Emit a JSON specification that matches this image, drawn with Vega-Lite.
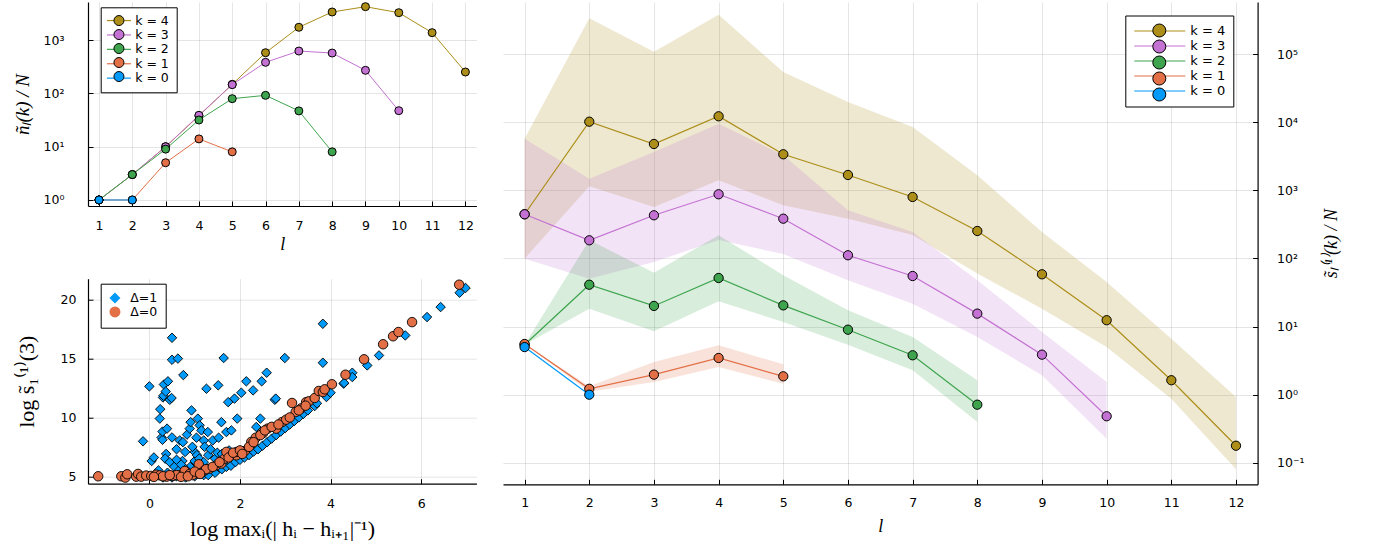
{
  "$schema": "https://vega.github.io/schema/vega-lite/v6.json",
  "padding": {"left": 13, "top": 0, "right": 5, "bottom": 5},
  "background": "white",
  "config": {
    "view": {"stroke": null},
    "axis": {
      "labelFont": "DejaVu Sans", "labelFontSize": 12.5, "labelColor": "#000",
      "titleFont": "Liberation Serif", "titleFontStyle": "italic", "titleFontWeight": "normal",
      "titleFontSize": 18, "titleColor": "#000",
      "gridColor": "#000", "gridOpacity": 0.1, "gridWidth": 1,
      "domainColor": "#000", "domainWidth": 1.2,
      "tickColor": "#000", "tickSize": -5, "tickWidth": 1
    },
    "legend": {"labelFont": "DejaVu Sans", "labelColor": "#000"}
  },
  "datasets": {
    "nl": [
      {"k":"4","s":"4","l":1,"n":1},{"k":"4","s":"4","l":2,"n":3},{"k":"4","s":"4","l":3,"n":10},{"k":"4","s":"4","l":4,"n":38},{"k":"4","s":"4","l":5,"n":148},{"k":"4","s":"4","l":6,"n":580},{"k":"4","s":"4","l":7,"n":1740},{"k":"4","s":"4","l":8,"n":3370},{"k":"4","s":"4","l":9,"n":4240},{"k":"4","s":"4","l":10,"n":3270},{"k":"4","s":"4","l":11,"n":1380},{"k":"4","s":"4","l":12,"n":252},
      {"k":"3","s":"3","l":1,"n":1},{"k":"3","s":"3","l":2,"n":3},{"k":"3","s":"3","l":3,"n":10},{"k":"3","s":"3","l":4,"n":38.8},{"k":"3","s":"3","l":5,"n":146},{"k":"3","s":"3","l":6,"n":383},{"k":"3","s":"3","l":7,"n":624},{"k":"3","s":"3","l":8,"n":572},{"k":"3","s":"3","l":9,"n":271},{"k":"3","s":"3","l":10,"n":47.4},
      {"k":"2","s":"2","l":1,"n":1},{"k":"2","s":"2","l":2,"n":3},{"k":"2","s":"2","l":3,"n":9},{"k":"2","s":"2","l":4,"n":31.7},{"k":"2","s":"2","l":5,"n":79.6},{"k":"2","s":"2","l":6,"n":92},{"k":"2","s":"2","l":7,"n":47},{"k":"2","s":"2","l":8,"n":8},
      {"k":"1","s":"1","l":1,"n":1},{"k":"1","s":"1","l":2,"n":1},{"k":"1","s":"1","l":3,"n":5},{"k":"1","s":"1","l":4,"n":14},{"k":"1","s":"1","l":5,"n":8},
      {"k":"0","s":"0","l":1,"n":1},{"k":"0","s":"0","l":2,"n":1}
    ],
    "sl": [
      {"k":"4","s":"4","l":1,"v":446},{"k":"4","s":"4","l":2,"v":10200},{"k":"4","s":"4","l":3,"v":4800},{"k":"4","s":"4","l":4,"v":12250},{"k":"4","s":"4","l":5,"v":3390},{"k":"4","s":"4","l":6,"v":1683},{"k":"4","s":"4","l":7,"v":800},{"k":"4","s":"4","l":8,"v":253.5},{"k":"4","s":"4","l":9,"v":58.6},{"k":"4","s":"4","l":10,"v":12.4},{"k":"4","s":"4","l":11,"v":1.63},{"k":"4","s":"4","l":12,"v":0.178},
      {"k":"3","s":"3","l":1,"v":446},{"k":"3","s":"3","l":2,"v":185},{"k":"3","s":"3","l":3,"v":431},{"k":"3","s":"3","l":4,"v":877},{"k":"3","s":"3","l":5,"v":384},{"k":"3","s":"3","l":6,"v":111.5},{"k":"3","s":"3","l":7,"v":55.3},{"k":"3","s":"3","l":8,"v":15.5},{"k":"3","s":"3","l":9,"v":3.87},{"k":"3","s":"3","l":10,"v":0.482},
      {"k":"2","s":"2","l":1,"v":5.42},{"k":"2","s":"2","l":2,"v":41.2},{"k":"2","s":"2","l":3,"v":20.1},{"k":"2","s":"2","l":4,"v":51.7},{"k":"2","s":"2","l":5,"v":20.5},{"k":"2","s":"2","l":6,"v":9.0},{"k":"2","s":"2","l":7,"v":3.79},{"k":"2","s":"2","l":8,"v":0.713},
      {"k":"1","s":"1","l":1,"v":5.55},{"k":"1","s":"1","l":2,"v":1.22},{"k":"1","s":"1","l":3,"v":1.97},{"k":"1","s":"1","l":4,"v":3.46},{"k":"1","s":"1","l":5,"v":1.86},
      {"k":"0","s":"0","l":1,"v":5.0},{"k":"0","s":"0","l":2,"v":1.0}
    ],
    "band": [
      {"k":"4","l":1,"lo":99.3,"hi":5740},{"k":"4","l":2,"lo":1148,"hi":336500},{"k":"4","l":3,"lo":570,"hi":108900},{"k":"4","l":4,"lo":1407,"hi":380000},{"k":"4","l":5,"lo":604,"hi":54800},{"k":"4","l":6,"lo":384,"hi":19860},{"k":"4","l":7,"lo":221,"hi":8530},{"k":"4","l":8,"lo":60,"hi":1667},{"k":"4","l":9,"lo":18.3,"hi":245},{"k":"4","l":10,"lo":5.02,"hi":45.2},{"k":"4","l":11,"lo":0.874,"hi":6.64},{"k":"4","l":12,"lo":0.0803,"hi":0.925},
      {"k":"3","l":1,"lo":99.3,"hi":5740},{"k":"3","l":2,"lo":50.5,"hi":1486},{"k":"3","l":3,"lo":88.9,"hi":3664},{"k":"3","l":4,"lo":187,"hi":9540},{"k":"3","l":5,"lo":116.4,"hi":3275},{"k":"3","l":6,"lo":47.9,"hi":510},{"k":"3","l":7,"lo":21.7,"hi":245},{"k":"3","l":8,"lo":7.03,"hi":47.9},{"k":"3","l":9,"lo":1.93,"hi":8.33},{"k":"3","l":10,"lo":0.226,"hi":1.54},
      {"k":"2","l":1,"lo":5.42,"hi":5.42},{"k":"2","l":2,"lo":18.3,"hi":187},{"k":"2","l":3,"lo":8.53,"hi":61.9},{"k":"2","l":4,"lo":23.5,"hi":219},{"k":"2","l":5,"lo":11.7,"hi":56.7},{"k":"2","l":6,"lo":5.42,"hi":17.4},{"k":"2","l":7,"lo":2.28,"hi":7.03},{"k":"2","l":8,"lo":0.397,"hi":1.63},
      {"k":"1","l":1,"lo":5.55,"hi":5.55},{"k":"1","l":2,"lo":1.10,"hi":1.33},{"k":"1","l":3,"lo":1.54,"hi":3.02},{"k":"1","l":4,"lo":2.55,"hi":5.31},{"k":"1","l":5,"lo":1.45,"hi":2.79}
    ],
    "sc": [
      {"d":"Δ=1","x":-0.14,"y":7.97},{"d":"Δ=1","x":0.0,"y":12.64},{"d":"Δ=1","x":0.05,"y":6.3},{"d":"Δ=1","x":0.1,"y":6.6},{"d":"Δ=1","x":0.23,"y":9.9},{"d":"Δ=1","x":0.24,"y":10.7},{"d":"Δ=1","x":0.27,"y":8.3},{"d":"Δ=1","x":0.29,"y":8.1},{"d":"Δ=1","x":0.29,"y":8.8},{"d":"Δ=1","x":0.3,"y":11.7},{"d":"Δ=1","x":0.31,"y":11.85},{"d":"Δ=1","x":0.32,"y":12.8},{"d":"Δ=1","x":0.36,"y":12.2},{"d":"Δ=1","x":0.37,"y":6.9},{"d":"Δ=1","x":0.39,"y":9.05},{"d":"Δ=1","x":0.41,"y":13.07},{"d":"Δ=1","x":0.45,"y":11.5},{"d":"Δ=1","x":0.49,"y":11.65},{"d":"Δ=1","x":0.5,"y":16.77},{"d":"Δ=1","x":0.5,"y":14.9},{"d":"Δ=1","x":0.5,"y":8.3},{"d":"Δ=1","x":0.63,"y":15.0},{"d":"Δ=1","x":0.67,"y":8.05},{"d":"Δ=1","x":0.73,"y":6.3},{"d":"Δ=1","x":0.74,"y":7.9},{"d":"Δ=1","x":0.75,"y":13.6},{"d":"Δ=1","x":0.79,"y":7.07},{"d":"Δ=1","x":0.83,"y":8.54},{"d":"Δ=1","x":0.89,"y":9.05},{"d":"Δ=1","x":0.91,"y":9.6},{"d":"Δ=1","x":0.93,"y":10.6},{"d":"Δ=1","x":1.0,"y":7.07},{"d":"Δ=1","x":1.04,"y":8.28},{"d":"Δ=1","x":1.07,"y":9.9},{"d":"Δ=1","x":1.11,"y":9.33},{"d":"Δ=1","x":1.15,"y":8.9},{"d":"Δ=1","x":1.2,"y":8.05},{"d":"Δ=1","x":1.22,"y":7.5},{"d":"Δ=1","x":1.26,"y":12.44},{"d":"Δ=1","x":1.29,"y":8.76},{"d":"Δ=1","x":1.4,"y":8.05},{"d":"Δ=1","x":1.52,"y":12.73},{"d":"Δ=1","x":1.53,"y":8.28},{"d":"Δ=1","x":1.59,"y":9.6},{"d":"Δ=1","x":1.64,"y":15.05},{"d":"Δ=1","x":1.7,"y":8.76},{"d":"Δ=1","x":1.74,"y":11.3},{"d":"Δ=1","x":1.76,"y":7.2},{"d":"Δ=1","x":1.81,"y":8.9},{"d":"Δ=1","x":1.88,"y":11.6},{"d":"Δ=1","x":1.94,"y":9.9},{"d":"Δ=1","x":2.03,"y":12.1},{"d":"Δ=1","x":2.14,"y":13.07},{"d":"Δ=1","x":2.29,"y":12.3},{"d":"Δ=1","x":2.36,"y":9.19},{"d":"Δ=1","x":2.45,"y":9.9},{"d":"Δ=1","x":2.48,"y":13.07},{"d":"Δ=1","x":2.59,"y":13.8},{"d":"Δ=1","x":2.77,"y":11.5},{"d":"Δ=1","x":2.79,"y":11.6},{"d":"Δ=1","x":2.99,"y":15.05},{"d":"Δ=1","x":3.83,"y":17.96},{"d":"Δ=1","x":3.83,"y":14.65},{"d":"Δ=1","x":4.29,"y":12.87},{"d":"Δ=1","x":4.48,"y":13.8},{"d":"Δ=1","x":4.48,"y":13.43},{"d":"Δ=1","x":4.81,"y":14.42},{"d":"Δ=1","x":5.07,"y":15.27},{"d":"Δ=1","x":5.65,"y":16.97},{"d":"Δ=1","x":6.13,"y":18.53},{"d":"Δ=1","x":6.43,"y":19.38},{"d":"Δ=1","x":6.85,"y":20.6},{"d":"Δ=1","x":6.98,"y":21.0},
      {"d":"Δ=1","x":0.35,"y":6.5},{"d":"Δ=1","x":0.45,"y":6.2},{"d":"Δ=1","x":0.55,"y":5.8},{"d":"Δ=1","x":0.6,"y":6.4},{"d":"Δ=1","x":0.65,"y":5.5},{"d":"Δ=1","x":0.7,"y":6.0},{"d":"Δ=1","x":0.9,"y":5.8},{"d":"Δ=1","x":1.0,"y":6.3},{"d":"Δ=1","x":1.05,"y":6.8},{"d":"Δ=1","x":1.1,"y":6.5},{"d":"Δ=1","x":1.2,"y":6.2},{"d":"Δ=1","x":1.3,"y":6.8},{"d":"Δ=1","x":1.45,"y":6.5},{"d":"Δ=1","x":1.5,"y":7.0},{"d":"Δ=1","x":1.6,"y":6.9},{"d":"Δ=1","x":0.2,"y":5.5},{"d":"Δ=1","x":0.4,"y":5.3},{"d":"Δ=1","x":0.8,"y":5.6},{"d":"Δ=1","x":1.1,"y":5.6},{"d":"Δ=1","x":0.95,"y":7.5},{"d":"Δ=1","x":0.6,"y":7.3},{"d":"Δ=1","x":1.35,"y":7.3},
      {"d":"Δ=1","x":0.3,"y":4.9},{"d":"Δ=1","x":0.5,"y":4.9},{"d":"Δ=1","x":0.6,"y":5.0},{"d":"Δ=1","x":0.8,"y":4.9},{"d":"Δ=1","x":1.0,"y":5.0},{"d":"Δ=1","x":1.2,"y":5.1},{"d":"Δ=1","x":1.3,"y":5.1},{"d":"Δ=1","x":1.45,"y":5.3},{"d":"Δ=1","x":1.6,"y":5.6},{"d":"Δ=1","x":1.7,"y":5.8},{"d":"Δ=1","x":1.8,"y":5.9},{"d":"Δ=1","x":1.9,"y":6.2},{"d":"Δ=1","x":2.0,"y":6.4},{"d":"Δ=1","x":2.1,"y":6.6},{"d":"Δ=1","x":2.2,"y":6.8},{"d":"Δ=1","x":2.3,"y":7.1},{"d":"Δ=1","x":2.4,"y":7.3},{"d":"Δ=1","x":2.5,"y":7.6},{"d":"Δ=1","x":2.6,"y":7.9},{"d":"Δ=1","x":2.7,"y":8.2},{"d":"Δ=1","x":2.8,"y":8.5},{"d":"Δ=1","x":2.9,"y":8.8},{"d":"Δ=1","x":3.0,"y":9.1},{"d":"Δ=1","x":3.1,"y":9.4},{"d":"Δ=1","x":3.2,"y":9.7},{"d":"Δ=1","x":3.3,"y":10.0},{"d":"Δ=1","x":3.4,"y":10.3},{"d":"Δ=1","x":3.5,"y":10.6},{"d":"Δ=1","x":3.65,"y":10.97},{"d":"Δ=1","x":3.7,"y":11.2},{"d":"Δ=1","x":3.91,"y":11.74},{"d":"Δ=1","x":4.0,"y":12.1},{"d":"Δ=1","x":4.3,"y":12.93},
      {"d":"Δ=0","x":-1.13,"y":5.0},{"d":"Δ=0","x":-0.62,"y":5.0},{"d":"Δ=0","x":-0.53,"y":4.89},{"d":"Δ=0","x":-0.49,"y":5.17},{"d":"Δ=0","x":-0.29,"y":4.97},{"d":"Δ=0","x":-0.25,"y":5.2},{"d":"Δ=0","x":-0.18,"y":4.97},{"d":"Δ=0","x":-0.07,"y":5.06},{"d":"Δ=0","x":0.04,"y":5.03},{"d":"Δ=0","x":0.15,"y":5.14},{"d":"Δ=0","x":0.23,"y":5.08},{"d":"Δ=0","x":0.38,"y":4.97},{"d":"Δ=0","x":0.52,"y":5.03},{"d":"Δ=0","x":0.67,"y":5.08},{"d":"Δ=0","x":0.78,"y":5.45},{"d":"Δ=0","x":0.89,"y":5.2},{"d":"Δ=0","x":1.04,"y":5.23},{"d":"Δ=0","x":1.09,"y":6.02},{"d":"Δ=0","x":1.22,"y":5.5},{"d":"Δ=0","x":1.33,"y":5.65},{"d":"Δ=0","x":1.48,"y":5.93},{"d":"Δ=0","x":1.59,"y":6.08},{"d":"Δ=0","x":1.66,"y":6.5},{"d":"Δ=0","x":1.7,"y":7.07},{"d":"Δ=0","x":1.92,"y":6.78},{"d":"Δ=0","x":1.93,"y":7.07},{"d":"Δ=0","x":2.11,"y":7.15},{"d":"Δ=0","x":2.25,"y":7.92},{"d":"Δ=0","x":2.35,"y":8.28},{"d":"Δ=0","x":2.51,"y":8.68},{"d":"Δ=0","x":2.61,"y":9.05},{"d":"Δ=0","x":2.8,"y":9.05},{"d":"Δ=0","x":2.93,"y":9.61},{"d":"Δ=0","x":3.02,"y":9.81},{"d":"Δ=0","x":3.15,"y":11.23},{"d":"Δ=0","x":3.23,"y":10.46},{"d":"Δ=0","x":3.35,"y":10.77},{"d":"Δ=0","x":3.46,"y":11.3},{"d":"Δ=0","x":3.52,"y":11.37},{"d":"Δ=0","x":3.65,"y":11.65},{"d":"Δ=0","x":3.74,"y":12.25},{"d":"Δ=0","x":3.83,"y":12.16},{"d":"Δ=0","x":3.87,"y":12.39},{"d":"Δ=0","x":4.03,"y":12.82},{"d":"Δ=0","x":4.33,"y":13.63},{"d":"Δ=0","x":4.74,"y":14.94},{"d":"Δ=0","x":5.16,"y":16.22},{"d":"Δ=0","x":5.38,"y":16.9},{"d":"Δ=0","x":5.5,"y":17.26},{"d":"Δ=0","x":5.8,"y":18.1},{"d":"Δ=0","x":6.84,"y":21.28},
      {"d":"Δ=0","x":0.6,"y":5.1},{"d":"Δ=0","x":0.7,"y":4.95},{"d":"Δ=0","x":0.95,"y":5.1},{"d":"Δ=0","x":1.15,"y":5.3},{"d":"Δ=0","x":1.25,"y":5.6},{"d":"Δ=0","x":1.4,"y":5.8},{"d":"Δ=0","x":1.55,"y":6.2},{"d":"Δ=0","x":1.75,"y":6.6},{"d":"Δ=0","x":1.85,"y":7.0},{"d":"Δ=0","x":2.0,"y":7.2},{"d":"Δ=0","x":2.05,"y":6.9},{"d":"Δ=0","x":2.2,"y":7.5},{"d":"Δ=0","x":2.3,"y":7.9},{"d":"Δ=0","x":2.45,"y":8.5},{"d":"Δ=0","x":2.55,"y":8.9},{"d":"Δ=0","x":2.7,"y":9.2},{"d":"Δ=0","x":2.85,"y":9.4},{"d":"Δ=0","x":3.1,"y":10.0},{"d":"Δ=0","x":3.3,"y":10.6},{"d":"Δ=0","x":3.45,"y":11.0},{"d":"Δ=0","x":0.3,"y":5.0},{"d":"Δ=0","x":0.45,"y":5.1},{"d":"Δ=0","x":0.1,"y":4.95},{"d":"Δ=0","x":0.85,"y":5.0},{"d":"Δ=0","x":1.0,"y":5.4},{"d":"Δ=0","x":1.12,"y":5.2}
    ]
  },
  "resolve": {
    "scale": {"fill": "independent", "stroke": "independent", "shape": "independent"},
    "legend": {"fill": "independent", "stroke": "independent", "shape": "independent"}
  },
  "hconcat": [
    {
      "resolve": {
        "scale": {"fill": "independent", "stroke": "independent", "shape": "independent"},
        "legend": {"fill": "independent", "stroke": "independent", "shape": "independent"}
      },
      "vconcat": [
        {
          "width": 388.4, "height": 204,
          "data": {"name": "nl"},
          "encoding": {
            "x": {"field": "l", "type": "quantitative",
              "scale": {"domain": [0.67, 12.33], "nice": false, "zero": false},
              "axis": {"values": [1,2,3,4,5,6,7,8,9,10,11,12], "format": "d", "title": "l", "labelPadding": 18, "titlePadding": 4, "grid": true}},
            "y": {"field": "n", "type": "quantitative",
              "scale": {"type": "log", "domain": [0.771, 5190], "nice": false},
              "axis": {"values": [1,10,100,1000], "title": "ñₗ(k) / N", "titleFontSize": 19, "labelPadding": 29, "titlePadding": 11, "grid": true,
                "labelExpr": "['10⁻¹','10⁰','10¹','10²','10³','10⁴','10⁵'][round(log(datum.value)/LN10)+1]"}}
          },
          "layer": [
            {
              "mark": {"type": "line", "strokeWidth": 1},
              "encoding": {
                "stroke": {"field": "s", "type": "nominal", "sort": "descending",
                  "scale": {"range": ["#AC8E18","#C371D2","#3EA44E","#E36F47","#009AFA"]},
                  "legend": {"orient": "none", "legendX": 12.7, "legendY": 5.3, "title": null, "symbolType": "M-1.4,0H3.4", "symbolSize": 100, "symbolStrokeWidth": 1.2,
                    "labelFontSize": 12.5, "labelOffset": 15, "padding": 7, "rowPadding": 1.4, "strokeColor": "#000", "fillColor": "#fff", "cornerRadius": 0, "zindex": 0,
                    "labelExpr": "'k = ' + datum.label"}}
              }
            },
            {
              "mark": {"type": "point", "shape": "circle", "filled": true, "size": 64, "stroke": "#000", "strokeWidth": 1, "opacity": 1},
              "encoding": {
                "fill": {"field": "k", "type": "nominal",
                  "scale": {"domain": ["4","3","2","1","0"], "range": ["#AC8E18","#C371D2","#3EA44E","#E36F47","#009AFA"]},
                  "legend": {"orient": "none", "legendX": 17.7, "legendY": 5.3, "title": null, "symbolType": "circle", "symbolSize": 100, "symbolStrokeColor": "#000", "symbolStrokeWidth": 1, "symbolOpacity": 1,
                    "labelFontSize": 12.5, "labelOffset": 15, "labelOpacity": 0, "padding": 7, "rowPadding": -1.1, "zindex": 1}}
              }
            }
          ]
        },
        {
          "width": 388.4, "height": 205,
          "data": {"name": "sc"},
          "mark": {"type": "point", "filled": true, "size": 90, "stroke": "#000", "strokeWidth": 0.9, "opacity": 1},
          "encoding": {
            "x": {"field": "x", "type": "quantitative",
              "scale": {"domain": [-1.355, 7.22], "nice": false, "zero": false},
              "axis": {"values": [0,2,4,6], "title": "log maxᵢ(| hᵢ − hᵢ₊₁|⁻¹)", "titleFontStyle": "normal", "titleFontSize": 22, "titleX": 194, "labelPadding": 19, "titlePadding": 8, "grid": true}},
            "y": {"field": "y", "type": "quantitative",
              "scale": {"domain": [4.37, 21.79], "nice": false, "zero": false},
              "axis": {"values": [5,10,15,20], "title": "log s̃₁⁽¹⁾(3)", "titleFontStyle": "normal", "titleFontSize": 22, "titleY": 102.5, "labelPadding": 17, "titlePadding": 22, "grid": true}},
            "fill": {"field": "d", "type": "nominal",
              "scale": {"domain": ["Δ=1","Δ=0"], "range": ["#009AFA","#E36F47"]},
              "legend": {"orient": "none", "legendX": 12.7, "legendY": 5, "title": null, "symbolSize": 120, "symbolStrokeColor": "#000", "symbolStrokeWidth": 1,
                "labelFontSize": 12.5, "labelOffset": 9, "padding": 8, "rowPadding": -10, "strokeColor": "#000", "fillColor": "#fff", "cornerRadius": 0}},
            "shape": {"field": "d", "type": "nominal",
              "scale": {"domain": ["Δ=1","Δ=0"], "range": ["diamond","circle"]},
              "legend": {"orient": "none", "legendX": 12.7, "legendY": 5, "title": null, "symbolSize": 120, "symbolStrokeColor": "#000", "symbolStrokeWidth": 1,
                "labelFontSize": 12.5, "labelOffset": 9, "padding": 8, "rowPadding": -10, "strokeColor": "#000", "fillColor": "#fff", "cornerRadius": 0}}
          }
        }
      ],
      "spacing": 72.7,
      "bounds": "flush"
    },
    {
      "width": 754.6, "height": 482.3,
      "encoding": {
        "x": {"field": "l", "type": "quantitative",
          "scale": {"domain": [0.666, 12.334], "nice": false, "zero": false},
          "axis": {"values": [1,2,3,4,5,6,7,8,9,10,11,12], "format": "d", "title": "l", "labelPadding": 17, "titlePadding": 9, "grid": true}}
      },
      "layer": [
        {
          "data": {"name": "band"},
          "mark": {"type": "area", "fillOpacity": 0.2, "strokeWidth": 0},
          "encoding": {
            "y": {"field": "lo", "type": "quantitative",
              "scale": {"type": "log", "domain": [0.0483, 584000], "nice": false},
              "axis": {"orient": "right", "values": [0.1,1,10,100,1000,10000,100000], "title": "s̃ₗ⁽¹⁾(k) / N", "titleAngle": 270, "titleBaseline": "top",
                "labelPadding": 24, "titlePadding": 18, "grid": true,
                "labelExpr": "['10⁻¹','10⁰','10¹','10²','10³','10⁴','10⁵'][round(log(datum.value)/LN10)+1]"}},
            "y2": {"field": "hi"},
            "fill": {"field": "k", "type": "nominal",
              "scale": {"domain": ["4","3","2","1","0"], "range": ["#AC8E18","#C371D2","#3EA44E","#E36F47","#009AFA"]},
              "legend": {"orient": "none", "legendX": 641.3, "legendY": 13.5, "title": null, "symbolType": "circle", "symbolSize": 169, "symbolStrokeColor": "#000", "symbolStrokeWidth": 1, "symbolOpacity": 1, "symbolFillOpacity": 1,
                "labelFontSize": 13, "labelOffset": 42, "labelOpacity": 0, "padding": 8, "rowPadding": -4.3, "zindex": 1}}
          }
        },
        {
          "data": {"name": "sl"},
          "mark": {"type": "line", "strokeWidth": 1.2},
          "encoding": {
            "y": {"field": "v", "type": "quantitative"},
            "stroke": {"field": "s", "type": "nominal", "sort": "descending",
              "scale": {"range": ["#AC8E18","#C371D2","#3EA44E","#E36F47","#009AFA"]},
              "legend": {"orient": "none", "legendX": 622.3, "legendY": 13.5, "title": null, "symbolType": "M-1,0H6.846", "symbolSize": 169, "symbolStrokeWidth": 1.2,
                "labelFontSize": 13, "labelOffset": 42, "padding": 8, "rowPadding": -1.25, "strokeColor": "#000", "fillColor": "#fff", "cornerRadius": 0, "zindex": 0,
                "labelExpr": "'k = ' + datum.label"}}
          }
        },
        {
          "data": {"name": "sl"},
          "mark": {"type": "point", "shape": "circle", "filled": true, "size": 86, "stroke": "#000", "strokeWidth": 1, "opacity": 1},
          "encoding": {
            "y": {"field": "v", "type": "quantitative"},
            "fill": {"field": "k", "type": "nominal",
              "legend": {"orient": "none", "legendX": 641.3, "legendY": 13.5, "title": null, "symbolType": "circle", "symbolSize": 169, "symbolStrokeColor": "#000", "symbolStrokeWidth": 1, "symbolOpacity": 1, "symbolFillOpacity": 1,
                "labelFontSize": 13, "labelOffset": 42, "labelOpacity": 0, "padding": 8, "rowPadding": -4.3, "zindex": 1}}
          }
        }
      ]
    }
  ],
  "spacing": 26
}
